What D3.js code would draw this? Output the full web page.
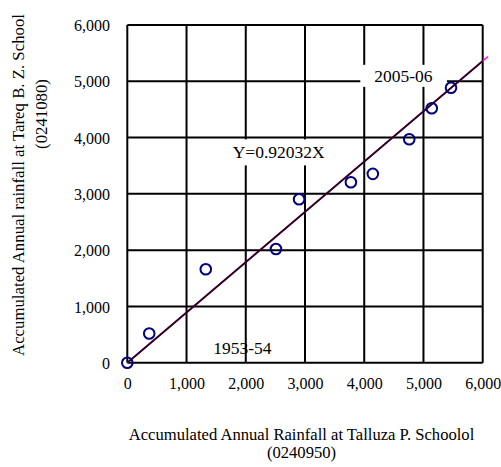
<!DOCTYPE html>
<html><head><meta charset="utf-8">
<script src="https://cdn.jsdelivr.net/npm/d3@7"></script>
<style>
html,body{margin:0;padding:0;background:#fff;}
svg{display:block;font-family:"Liberation Serif","Times New Roman",serif;}
svg text{font-family:"Liberation Serif","Times New Roman",serif;}
</style></head>
<body><svg id="chart" width="501" height="467"></svg>
<script>
// Data
const xValues = [0, 370, 1325, 2510, 2900, 3775, 4145, 4760, 5140, 5465];
const yValues = [0, 520, 1660, 2020, 2905, 3205, 3355, 3970, 4520, 4885];
const xTicks = [0, 1000, 2000, 3000, 4000, 5000, 6000];
const yTicks = [0, 1000, 2000, 3000, 4000, 5000, 6000];
const trendX = [0, 6090];
const trendY = [0, 5440];
const equationLabel = "Y=0.92032X";
const startLabel = "1953-54";
const endLabel = "2005-06";
const xTitle = ["Accumulated Annual Rainfall at Talluza P. Schoolol", "(0240950)"];
const yTitle = ["Accumulated Annual rainfall at Tareq B. Z. School", "(0241080)"];

const svg = d3.select("#chart");
const L = 127.3, R = 482.7, T = 25, B = 362.7;
const x = d3.scaleLinear().domain([0, 6000]).range([L, R]);
const y = d3.scaleLinear().domain([0, 6000]).range([B, T]);
const fmt = d3.format(",");

// gridlines
const g = svg.append("g");
g.selectAll("line.vx").data(xTicks).join("line")
  .attr("x1", d => x(d)).attr("x2", d => x(d)).attr("y1", T).attr("y2", B)
  .attr("stroke", "#000").attr("stroke-width", 2);
g.selectAll("line.hy").data(yTicks).join("line")
  .attr("y1", d => y(d)).attr("y2", d => y(d)).attr("x1", L).attr("x2", R)
  .attr("stroke", "#000").attr("stroke-width", 2);

// axes tick labels
const xAxis = d3.axisBottom(x).tickValues(xTicks).tickFormat(fmt).tickSize(0).tickPadding(0);
const ax = svg.append("g").attr("transform", `translate(0,${B + 15})`).call(xAxis)
  .attr("font-family", "Liberation Serif");
ax.select(".domain").remove();
ax.selectAll("text").attr("font-size", 16).attr("fill", "#000").attr("dy", "0.71em");
const yAxis = d3.axisLeft(y).tickValues(yTicks).tickFormat(fmt).tickSize(0).tickPadding(0);
const ay = svg.append("g").attr("transform", `translate(110,0)`).call(yAxis)
  .attr("font-family", "Liberation Serif");
ay.select(".domain").remove();
ay.selectAll("text").attr("font-size", 16).attr("fill", "#000").attr("dy", "0.35em");

// label boxes
function boxedLabel(txt, lx, ly, padX, padTop, padBot) {
  const gg = svg.append("g");
  const r = gg.append("rect").attr("fill", "#fff");
  const t = gg.append("text").attr("x", lx).attr("y", ly).attr("font-size", 17.5).attr("fill", "#000").text(txt);
  const bb = t.node().getBBox();
  r.attr("x", bb.x - padX).attr("y", bb.y - padTop).attr("width", bb.width + 2 * padX).attr("height", bb.height + padTop + padBot);
}
boxedLabel(equationLabel, x(1780), y(3630), 7, 3, 3);
boxedLabel(endLabel, x(4170), y(4990), 14, 1, 1);

// trend line: magenta underneath, dark overlay clipped to plot
const line = d3.line().x(d => x(d[0])).y(d => y(d[1]));
const trendPts = trendX.map((v, i) => [v, trendY[i]]);
svg.append("path").attr("d", line(trendPts)).attr("stroke", "#ff00ff").attr("stroke-width", 1.5).attr("fill", "none");
svg.append("clipPath").attr("id", "clip").append("rect").attr("x", L).attr("y", T).attr("width", R - L).attr("height", B - T);
svg.append("path").attr("d", line(trendPts)).attr("stroke", "#2a0020").attr("stroke-width", 2).attr("fill", "none")
  .attr("clip-path", "url(#clip)");

// start label
svg.append("text").attr("x", x(1450)).attr("y", y(155)).attr("font-size", 17.5).attr("fill", "#000").text(startLabel);

// points
svg.selectAll("circle.pt").data(xValues).join("circle")
  .attr("cx", d => x(d)).attr("cy", (d, i) => y(yValues[i])).attr("r", 5.3)
  .attr("fill", "none").attr("stroke", "#000080").attr("stroke-width", 2);

// axis titles
svg.append("text").attr("x", 301.5).attr("y", 440).attr("text-anchor", "middle").attr("font-size", 16.6).text(xTitle[0]);
svg.append("text").attr("x", 301.5).attr("y", 458).attr("text-anchor", "middle").attr("font-size", 16.6).text(xTitle[1]);
svg.append("text").attr("transform", "translate(24,185) rotate(-90)").attr("text-anchor", "middle").attr("font-size", 16.8).text(yTitle[0]);
svg.append("text").attr("transform", "translate(47,114) rotate(-90)").attr("text-anchor", "middle").attr("font-size", 16.8).text(yTitle[1]);
</script></body></html>
